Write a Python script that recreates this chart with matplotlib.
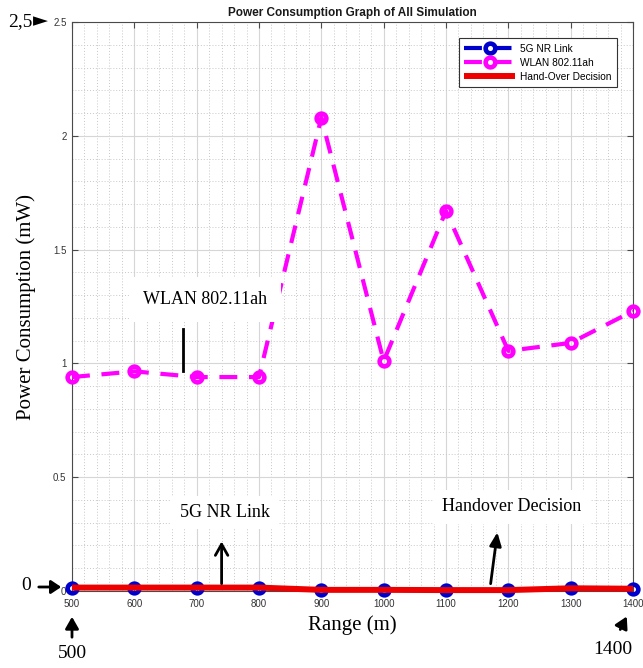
import matplotlib
matplotlib.use("Agg")
import matplotlib.pyplot as plt
from matplotlib.ticker import MultipleLocator

# Range values (m)
range_m = [500, 600, 700, 800, 900, 1000, 1100, 1200, 1300, 1400]
# Power consumption (mW)
nr_5g = [0.015, 0.015, 0.015, 0.015, 0.005, 0.005, 0.004, 0.004, 0.012, 0.01]
wlan_ah = [0.94, 0.965, 0.94, 0.94, 2.08, 1.01, 1.67, 1.055, 1.09, 1.23]
handover = [0.015, 0.015, 0.015, 0.015, 0.005, 0.005, 0.004, 0.004, 0.012, 0.01]

series_names = ["5G NR Link", "WLAN 802.11ah", "Hand-Over Decision"]
x_ticks = [500, 600, 700, 800, 900, 1000, 1100, 1200, 1300, 1400]
y_ticks = [0, 0.5, 1, 1.5, 2, 2.5]

W, H = 643, 668
fig = plt.figure(figsize=(W / 100, H / 100), dpi=100)
fig.patch.set_facecolor("white")


def fxy(px, py):
    """pixel position (top-left origin) -> figure fraction"""
    return px / W, 1 - py / H


ax = fig.add_axes([72 / W, 1 - 591 / H, (633 - 72) / W, (591 - 22) / H])

sans = "Liberation Sans"
serif = "Liberation Serif"

# Series
ax.plot(range_m, nr_5g, color="#0000cc", lw=3, dashes=(4.3, 2.8),
        marker="o", ms=7, mfc="none", mec="#0000cc", mew=3.3,
        label=series_names[0], zorder=3, clip_on=False)
ax.plot(range_m, wlan_ah, color="#ff00ff", lw=3, dashes=(4.3, 2.8),
        marker="o", ms=7, mfc="none", mec="#ff00ff", mew=3.3,
        label=series_names[1], zorder=3, clip_on=False)
ax.plot(range_m, handover, color="#ee0000", lw=4.3, solid_capstyle="butt",
        label=series_names[2], zorder=4, clip_on=False)

ax.set_xlim(500, 1400)
ax.set_ylim(0, 2.5)
ax.set_xticks(x_ticks)
ax.set_yticks(y_ticks)
ax.set_yticklabels(["0", "0.5", "1", "1.5", "2", "2.5"])
ax.xaxis.set_minor_locator(MultipleLocator(20))
ax.yaxis.set_minor_locator(MultipleLocator(0.1))

ax.grid(which="major", color="#d6d6d6", lw=0.8, ls="-")
ax.grid(which="minor", color="#c8c8c8", lw=0.7, ls=(0, (1, 2)))
ax.set_axisbelow(True)

for s in ax.spines.values():
    s.set_color("#4a4a4a")
    s.set_linewidth(0.8)
ax.tick_params(which="both", direction="in", top=True, right=True,
               colors="#4a4a4a", labelcolor="#333333", labelsize=7)
ax.tick_params(which="major", length=4)
ax.tick_params(which="minor", length=0)
for lab in ax.get_xticklabels() + ax.get_yticklabels():
    lab.set_fontfamily(sans)
ax.tick_params(axis="x", pad=6)
ax.tick_params(axis="y", pad=4)

ax.set_title("Power Consumption Graph of All Simulation", fontsize=8.5,
             fontweight="bold", family=sans, pad=4, color="#1a1a1a")

ax.set_xlabel("Range (m)", family=serif, fontsize=15, labelpad=4)
ax.set_ylabel("Power Consumption (mW)", family=serif, fontsize=15, labelpad=12)

leg = ax.legend(loc="upper right", bbox_to_anchor=fxy(617, 38),
                bbox_transform=fig.transFigure, borderaxespad=0,
                fancybox=False, framealpha=1, edgecolor="#333333",
                prop={"family": sans, "size": 7.3}, handlelength=5.0,
                numpoints=1, borderpad=0.55, labelspacing=0.4,
                handletextpad=0.5)
leg.get_frame().set_linewidth(0.8)

# Callouts inside the axes
ax.text(713, 1.28, "WLAN 802.11ah", family=serif, fontsize=13,
        ha="center", va="center", zorder=6,
        bbox=dict(facecolor="white", edgecolor="none", pad=10))
ax.plot([678, 678], [1.15, 0.965], color="black", lw=2, zorder=6)

ax.text(745, 0.345, "5G NR Link", family=serif, fontsize=13,
        ha="center", va="center", zorder=6,
        bbox=dict(facecolor="white", edgecolor="none", pad=6))
ax.annotate("", xy=(740, 0.23), xytext=(740, 0.02),
            arrowprops=dict(arrowstyle="->,head_length=0.8,head_width=0.45",
                            lw=2, color="black"), zorder=6)

ax.text(1206, 0.37, "Handover Decision", family=serif, fontsize=13,
        ha="center", va="center", zorder=6,
        bbox=dict(facecolor="white", edgecolor="none", pad=6))
ax.annotate("", xy=(1183, 0.27), xytext=(1171, 0.02),
            arrowprops=dict(arrowstyle="-|>,head_length=0.8,head_width=0.35",
                            lw=2, color="black"), zorder=6)

# Callouts around the frame
fig.text(*fxy(8, 22), "2,5", family=serif, fontsize=14, ha="left",
         va="center")
fig.text(*fxy(33, 21), "\u25BA", family=["DejaVu Sans"], fontsize=14,
         ha="left", va="center")

fig.text(*fxy(21, 585), "0", family=serif, fontsize=14, ha="left",
         va="center")
fig.patches.append(matplotlib.patches.FancyArrowPatch(
    fxy(36, 587), fxy(64, 587), transform=fig.transFigure,
    arrowstyle="-|>,head_length=6,head_width=4", lw=2, color="black",
    mutation_scale=1))

fig.patches.append(matplotlib.patches.FancyArrowPatch(
    fxy(72, 640), fxy(72, 614), transform=fig.transFigure,
    arrowstyle="-|>,head_length=7,head_width=4", lw=2, color="black",
    mutation_scale=1))
fig.text(*fxy(72, 654), "500", family=serif, fontsize=14, ha="center",
         va="center")

fig.patches.append(matplotlib.patches.FancyArrowPatch(
    fxy(619, 632), fxy(628, 614), transform=fig.transFigure,
    arrowstyle="-|>,head_length=7,head_width=4", lw=2, color="black",
    mutation_scale=1))
fig.text(*fxy(613, 650), "1400", family=serif, fontsize=14, ha="center",
         va="center")

fig.savefig("out.png", dpi=100, facecolor="white")
